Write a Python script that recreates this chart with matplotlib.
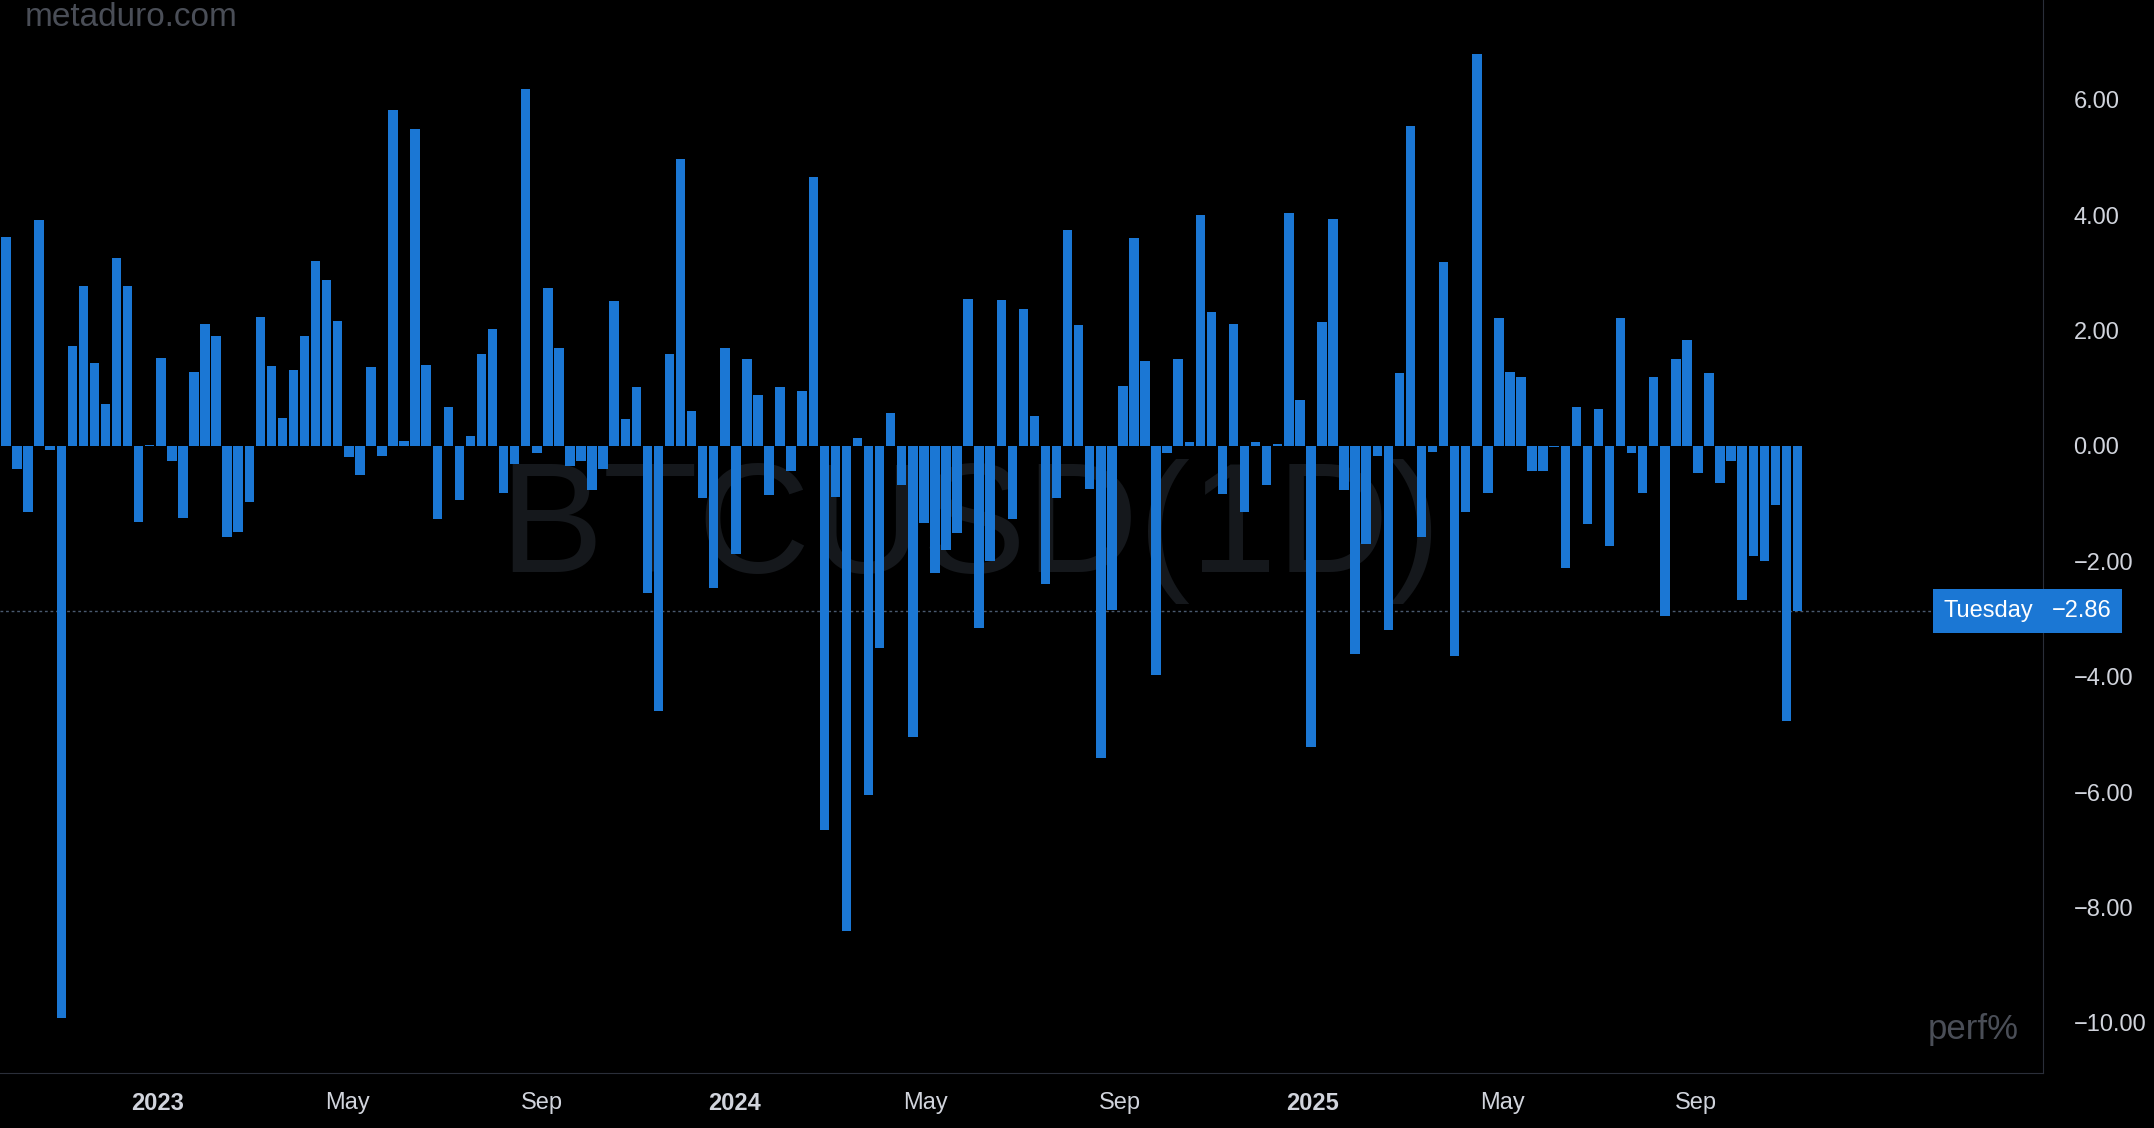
import pandas as pd
import matplotlib.pyplot as plt
import matplotlib.dates as mdates
from matplotlib.ticker import FuncFormatter

# Weekly BTCUSD performance (%), each bar a Tuesday
perf = [
    3.62, -0.40, -1.15, 3.91, -0.07, -9.92, 1.73, 2.78, 1.43, 0.73,
    3.26, 2.78, -1.31, 0.02, 1.53, -0.26, -1.25, 1.28, 2.11, 1.90,
    -1.58, -1.49, -0.97, 2.23, 1.38, 0.49, 1.31, 1.90, 3.20, 2.87,
    2.16, -0.19, -0.51, 1.37, -0.18, 5.83, 0.09, 5.50, 1.40, -1.27,
    0.67, -0.94, 0.18, 1.59, 2.02, -0.82, -0.32, 6.18, -0.13, 2.74,
    1.69, -0.35, -0.26, -0.76, -0.40, 2.51, 0.46, 1.02, -2.55, -4.59,
    1.59, 4.98, 0.61, -0.91, -2.46, 1.69, -1.87, 1.50, 0.89, -0.85,
    1.02, -0.44, 0.95, 4.66, -6.66, -0.89, -8.41, 0.14, -6.05, -3.50,
    0.57, -0.68, -5.04, -1.34, -2.21, -1.81, -1.51, 2.54, -3.15, -2.00,
    2.53, -1.27, 2.37, 0.52, -2.40, -0.91, 3.74, 2.10, -0.74, -5.41,
    -2.84, 1.04, 3.60, 1.47, -3.97, -0.13, 1.50, 0.06, 4.00, 2.32,
    -0.84, 2.11, -1.15, 0.07, -0.68, 0.03, 4.03, 0.79, -5.22, 2.14,
    3.93, -0.77, -3.61, -1.70, -0.18, -3.19, 1.26, 5.55, -1.57, -0.11,
    3.18, -3.64, -1.15, 6.80, -0.82, 2.22, 1.28, 1.19, -0.44, -0.44,
    -0.01, -2.12, 0.67, -1.36, 0.64, -1.74, 2.22, -0.13, -0.82, 1.19,
    -2.95, 1.50, 1.83, -0.47, 1.26, -0.65, -0.26, -2.67, -1.91, -2.00,
    -1.03, -4.77, -2.86,
]
dates = pd.date_range(end="2025-11-04", periods=len(perf), freq="7D")
x_ticks = pd.to_datetime(["2023-01-01", "2023-05-01", "2023-09-01",
                          "2024-01-01", "2024-05-01", "2024-09-01",
                          "2025-01-01", "2025-05-01", "2025-09-01"])
y_ticks = [6, 4, 2, 0, -2, -4, -6, -8, -10]
last_label = "Tuesday"

bg = "#000000"
blue = "#1b77d4"
text_col = "#d1d4dc"

plt.rcParams["font.family"] = ["Liberation Sans", "DejaVu Sans"]

fig = plt.figure(figsize=(21.54, 11.28), dpi=100, facecolor=bg)
ax = fig.add_axes([0, 1 - 1073 / 1128, 2043 / 2154, 1073 / 1128], facecolor=bg)

ax.bar(dates, perf, width=6.0, color=blue, zorder=2)

wk = pd.Timedelta(days=7)
ax.set_xlim(dates[0] - 0.54 * wk, dates[0] + 184.2 * wk)
ax.set_ylim(-10.87, 7.73)

# watermark
ax.text(0.475, 0.505, "BTCUSD(1D)", transform=ax.transAxes, ha="center", va="center",
        fontsize=112, color="#15181c", zorder=1)

# last value line
last = perf[-1]
ax.axhline(last, color="#4a5a70", lw=1, ls=(0, (2, 2)), zorder=1)

ax.yaxis.tick_right()
ax.set_yticks(y_ticks)
ax.set_yticklabels([f"{v:.2f}".replace("-", "\u2212") for v in y_ticks])
ax.tick_params(axis="y", length=0, pad=22, labelsize=17, colors=text_col)

ax.set_xticks(x_ticks)


def fmt_date(x, pos):
    d = mdates.num2date(x)
    return str(d.year) if d.month == 1 else d.strftime("%b")


ax.xaxis.set_major_formatter(FuncFormatter(fmt_date))
ax.tick_params(axis="x", length=0, pad=14, labelsize=17, colors=text_col)
fig.canvas.draw()
for lab in ax.get_xticklabels():
    if lab.get_text().isdigit():
        lab.set_fontweight("bold")

for s in ["top", "left"]:
    ax.spines[s].set_visible(False)
ax.spines["bottom"].set_color("#2a2e39")
ax.spines["right"].set_color("#2a2e39")

# labels on the right
y_fig = (1 - 1073 / 1128) + (last + 10.87) / (7.73 + 10.87) * (1073 / 1128)
fig.text(2052 / 2154, y_fig, "\u2212" + f"{abs(last):.2f}", ha="left", va="center",
         fontsize=17, color="white",
         bbox=dict(boxstyle="square,pad=0.45", fc=blue, ec="none"))
fig.text(2033 / 2154, y_fig, last_label, ha="right", va="center",
         fontsize=17, color="white",
         bbox=dict(boxstyle="square,pad=0.45", fc=blue, ec="none"))

fig.text(25 / 2154, 1 - 18 / 1128, "metaduro.com", ha="left", va="center",
         fontsize=24, color="#4a4e57")
ax.text(0.988, 0.025, "perf%", transform=ax.transAxes, ha="right", va="bottom",
        fontsize=25, color="#4a4e57")

fig.savefig("out.png", dpi=100, facecolor=bg)
